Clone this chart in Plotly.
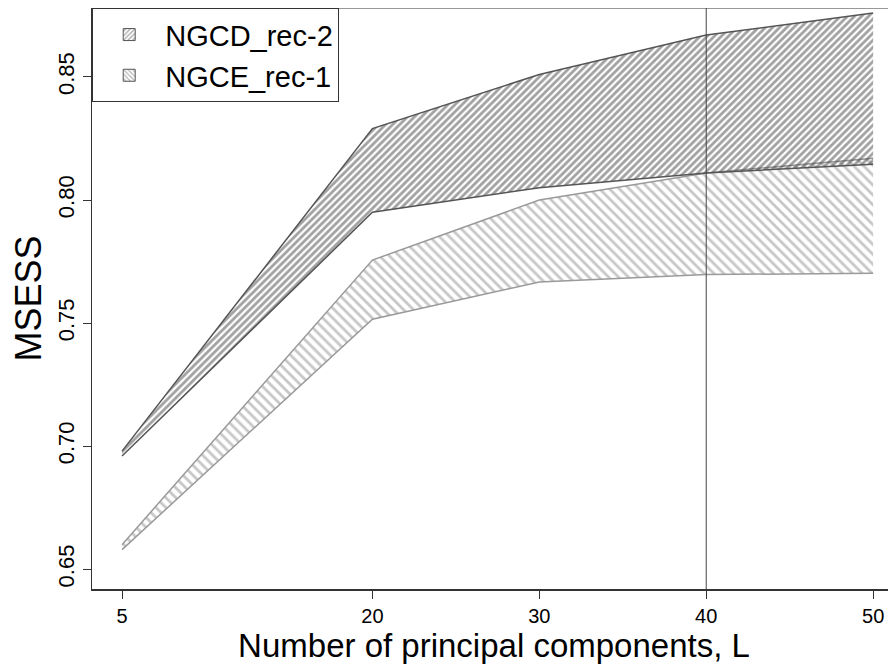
import plotly.graph_objects as go

L = [5, 20, 30, 40, 50]
ngcd_upper = [0.698, 0.829, 0.851, 0.867, 0.876]
ngcd_lower = [0.696, 0.795, 0.805, 0.811, 0.8145]
ngce_upper = [0.660, 0.7756, 0.800, 0.811, 0.817]
ngce_lower = [0.658, 0.7516, 0.7667, 0.7697, 0.7703]
x_ticks = [5, 20, 30, 40, 50]
y_ticks = [0.65, 0.70, 0.75, 0.80, 0.85]
vline_x = 40

FONT = "Liberation Sans, Arial, sans-serif"

fig = go.Figure()

# NGCE_rec-1 band (gray, back-slash hatch)
fig.add_trace(go.Scatter(x=L, y=ngce_lower, mode="lines",
                         line=dict(color="#9a9a9a", width=1.5),
                         showlegend=False, hoverinfo="skip"))
fig.add_trace(go.Scatter(x=L, y=ngce_upper, mode="lines", fill="tonexty",
                         name="NGCE_rec-1", showlegend=False,
                         line=dict(color="#9a9a9a", width=1.5),
                         fillcolor="rgba(0,0,0,0)",
                         fillpattern=dict(shape="\\", fgcolor="#8f8f8f",
                                          bgcolor="rgba(0,0,0,0)", size=7, solidity=0.4)))

# NGCD_rec-2 band (dark, slash hatch)
fig.add_trace(go.Scatter(x=L, y=ngcd_lower, mode="lines",
                         line=dict(color="#555555", width=1.5),
                         showlegend=False, hoverinfo="skip"))
fig.add_trace(go.Scatter(x=L, y=ngcd_upper, mode="lines", fill="tonexty",
                         name="NGCD_rec-2", showlegend=False,
                         line=dict(color="#555555", width=1.5),
                         fillcolor="rgba(0,0,0,0)",
                         fillpattern=dict(shape="/", fgcolor="#444444",
                                          bgcolor="rgba(0,0,0,0)", size=5, solidity=0.55)))

# legend entries (hatched square keys, as in the original)
fig.add_trace(go.Bar(x=[None], y=[None], name="NGCD_rec-2", legendrank=1,
                     marker=dict(color="white", line=dict(color="#555555", width=1),
                                 pattern=dict(shape="/", fgcolor="#555555", bgcolor="white",
                                              size=4, solidity=0.45))))
fig.add_trace(go.Bar(x=[None], y=[None], name="NGCE_rec-1", legendrank=2,
                     marker=dict(color="white", line=dict(color="#555555", width=1),
                                 pattern=dict(shape="\\", fgcolor="#555555", bgcolor="white",
                                              size=4, solidity=0.35))))

fig.add_shape(type="line", xref="x", yref="paper", x0=vline_x, x1=vline_x, y0=0, y1=1,
              line=dict(color="#444444", width=1))
fig.add_shape(type="line", xref="paper", yref="paper", x0=0, x1=1, y0=1, y1=1,
              line=dict(color="#333333", width=1.2))

fig.update_layout(
    width=888, height=658,
    margin=dict(l=84, r=0, t=0, b=77),
    plot_bgcolor="white", paper_bgcolor="white",
    font=dict(family=FONT, color="black"),
    showlegend=True,
    legend=dict(x=0, y=1, xanchor="left", yanchor="top", traceorder="normal",
                bordercolor="#333333", borderwidth=1.2, bgcolor="white",
                font=dict(size=29, family=FONT),
                itemwidth=62, tracegroupgap=0),
    xaxis=dict(range=[3.2, 51.37], tickmode="array", tickvals=x_ticks,
               ticktext=[str(v) for v in x_ticks], automargin=False,
               showgrid=False, zeroline=False, showline=True, linecolor="#333333", linewidth=1.5,
               ticks="outside", ticklen=8, tickcolor="#333333",
               tickfont=dict(size=20),
               title=dict(text="Number of principal components, L", font=dict(size=33), standoff=0)),
    yaxis=dict(range=[0.642, 0.878], tickmode="array", tickvals=y_ticks,
               ticktext=[f"{v:.2f}" for v in y_ticks], automargin=False,
               showgrid=False, zeroline=False, showline=True, linecolor="#333333", linewidth=1.2,
               ticks="outside", ticklen=8, tickcolor="#333333",
               tickangle=-90, tickfont=dict(size=22),
               title=dict(text="MSESS", font=dict(size=36), standoff=2)),
)

fig.write_html("out.html")
